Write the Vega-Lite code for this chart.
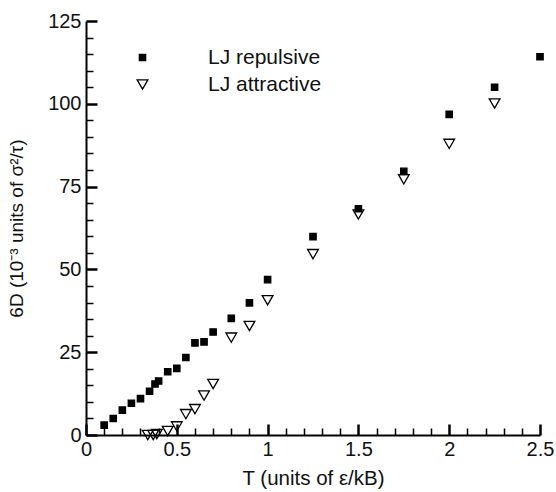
{
  "$schema": "https://vega.github.io/schema/vega-lite/v6.json",
  "width": 454,
  "height": 414,
  "autosize": {"type": "none"},
  "padding": {"left": 86, "top": 21, "right": 16, "bottom": 57},
  "background": "white",
  "config": {
    "font": "Liberation Sans",
    "view": {"stroke": null},
    "axis": {"grid": false, "labelColor": "#111", "titleColor": "#111", "domainColor": "black"}
  },
  "data": {
    "values": [
      {"series": "LJ repulsive", "T": 0.10, "D": 3.0},
      {"series": "LJ repulsive", "T": 0.15, "D": 5.0},
      {"series": "LJ repulsive", "T": 0.20, "D": 7.5},
      {"series": "LJ repulsive", "T": 0.25, "D": 9.6},
      {"series": "LJ repulsive", "T": 0.30, "D": 11.0},
      {"series": "LJ repulsive", "T": 0.35, "D": 13.2},
      {"series": "LJ repulsive", "T": 0.38, "D": 15.4},
      {"series": "LJ repulsive", "T": 0.40, "D": 16.3},
      {"series": "LJ repulsive", "T": 0.45, "D": 19.1},
      {"series": "LJ repulsive", "T": 0.50, "D": 20.1},
      {"series": "LJ repulsive", "T": 0.55, "D": 23.4},
      {"series": "LJ repulsive", "T": 0.60, "D": 27.8},
      {"series": "LJ repulsive", "T": 0.65, "D": 28.1},
      {"series": "LJ repulsive", "T": 0.70, "D": 31.1},
      {"series": "LJ repulsive", "T": 0.80, "D": 35.2},
      {"series": "LJ repulsive", "T": 0.90, "D": 39.9},
      {"series": "LJ repulsive", "T": 1.00, "D": 46.9},
      {"series": "LJ repulsive", "T": 1.25, "D": 59.9},
      {"series": "LJ repulsive", "T": 1.50, "D": 68.3},
      {"series": "LJ repulsive", "T": 1.75, "D": 79.6},
      {"series": "LJ repulsive", "T": 2.00, "D": 96.8},
      {"series": "LJ repulsive", "T": 2.25, "D": 105.0},
      {"series": "LJ repulsive", "T": 2.50, "D": 114.2},
      {"series": "LJ attractive", "T": 0.34, "D": 0.0},
      {"series": "LJ attractive", "T": 0.37, "D": 0.0},
      {"series": "LJ attractive", "T": 0.39, "D": 0.3},
      {"series": "LJ attractive", "T": 0.45, "D": 1.2},
      {"series": "LJ attractive", "T": 0.50, "D": 2.6},
      {"series": "LJ attractive", "T": 0.55, "D": 6.3},
      {"series": "LJ attractive", "T": 0.60, "D": 7.8},
      {"series": "LJ attractive", "T": 0.65, "D": 11.9},
      {"series": "LJ attractive", "T": 0.70, "D": 15.4},
      {"series": "LJ attractive", "T": 0.80, "D": 29.4},
      {"series": "LJ attractive", "T": 0.90, "D": 32.9},
      {"series": "LJ attractive", "T": 1.00, "D": 40.7},
      {"series": "LJ attractive", "T": 1.25, "D": 54.6},
      {"series": "LJ attractive", "T": 1.50, "D": 66.6},
      {"series": "LJ attractive", "T": 1.75, "D": 77.2},
      {"series": "LJ attractive", "T": 2.00, "D": 87.9},
      {"series": "LJ attractive", "T": 2.25, "D": 100.1}
    ]
  },
  "layer": [
    {
      "mark": {"type": "point", "opacity": 1, "strokeWidth": 1.3, "clip": false},
      "encoding": {
        "x": {
          "field": "T", "type": "quantitative",
          "scale": {"domain": [0, 2.5], "nice": false, "zero": true},
          "axis": {
            "orient": "bottom",
            "values": [0, 0.5, 1, 1.5, 2, 2.5],
            "format": "~g",
            "ticks": false, "domainWidth": 2,
            "labelFontSize": 20, "labelPadding": 4, "labelFlush": false, "labelOverlap": false,
            "title": "T (units of ε/kB)", "titleFontSize": 20.5, "titleFontWeight": "normal", "titlePadding": 9
          }
        },
        "y": {
          "field": "D", "type": "quantitative",
          "scale": {"domain": [0, 125], "nice": false, "zero": true},
          "axis": {
            "orient": "left",
            "values": [0, 25, 50, 75, 100, 125],
            "ticks": false, "domainWidth": 2,
            "labelFontSize": 20, "labelPadding": 5, "labelFlush": false, "labelOverlap": false,
            "title": "6D (10⁻³ units of σ²/τ)", "titleFontSize": 19, "titleFontWeight": "normal", "titlePadding": 21
          }
        },
        "shape": {
          "field": "series", "type": "nominal",
          "scale": {"domain": ["LJ repulsive", "LJ attractive"], "range": ["square", "triangle-down"]},
          "legend": {
            "orient": "none", "legendX": 46, "legendY": 26, "title": null,
            "labelFontSize": 21, "labelColor": "#111", "labelOffset": 55, "rowPadding": 5, "padding": 0,
            "symbolStrokeWidth": 1.3
          }
        },
        "fill": {
          "field": "series", "type": "nominal",
          "scale": {"domain": ["LJ repulsive", "LJ attractive"], "range": ["black", "transparent"]}
        },
        "stroke": {
          "field": "series", "type": "nominal",
          "scale": {"domain": ["LJ repulsive", "LJ attractive"], "range": ["black", "black"]}
        },
        "size": {
          "field": "series", "type": "nominal",
          "scale": {"domain": ["LJ repulsive", "LJ attractive"], "range": [40, 115]}
        }
      }
    },
    {
      "mark": {"type": "point", "opacity": 0},
      "encoding": {
        "x": {
          "field": "T", "type": "quantitative",
          "axis": {
            "orient": "top", "offset": -414, "ticks": true, "tickColor": "black", "tickOpacity": 1,
            "values": [0, 0.5, 1, 1.5, 2, 2.5],
            "tickSize": 11, "tickWidth": 2.5, "domain": false, "labels": false, "title": null
          }
        },
        "y": {
          "field": "D", "type": "quantitative",
          "axis": {
            "orient": "right", "offset": -454, "ticks": true, "tickColor": "black", "tickOpacity": 1,
            "values": [0, 25, 50, 75, 100, 125],
            "tickSize": 11, "tickWidth": 2.5, "domain": false, "labels": false, "title": null
          }
        }
      }
    },
    {
      "mark": {"type": "point", "opacity": 0},
      "encoding": {
        "x": {
          "field": "T", "type": "quantitative",
          "axis": {
            "orient": "top", "offset": -414, "ticks": true, "tickColor": "black", "tickOpacity": 1,
            "values": [0.1, 0.2, 0.3, 0.4, 0.6, 0.7, 0.8, 0.9, 1.1, 1.2, 1.3, 1.4, 1.6, 1.7, 1.8, 1.9, 2.1, 2.2, 2.3, 2.4],
            "tickSize": 7, "tickWidth": 1.5, "domain": false, "labels": false, "title": null
          }
        },
        "y": {
          "field": "D", "type": "quantitative",
          "axis": {
            "orient": "right", "offset": -454, "ticks": true, "tickColor": "black", "tickOpacity": 1,
            "values": [5, 10, 15, 20, 30, 35, 40, 45, 55, 60, 65, 70, 80, 85, 90, 95, 105, 110, 115, 120],
            "tickSize": 7, "tickWidth": 1.5, "domain": false, "labels": false, "title": null
          }
        }
      }
    }
  ],
  "resolve": {"axis": {"x": "independent", "y": "independent"}}
}
